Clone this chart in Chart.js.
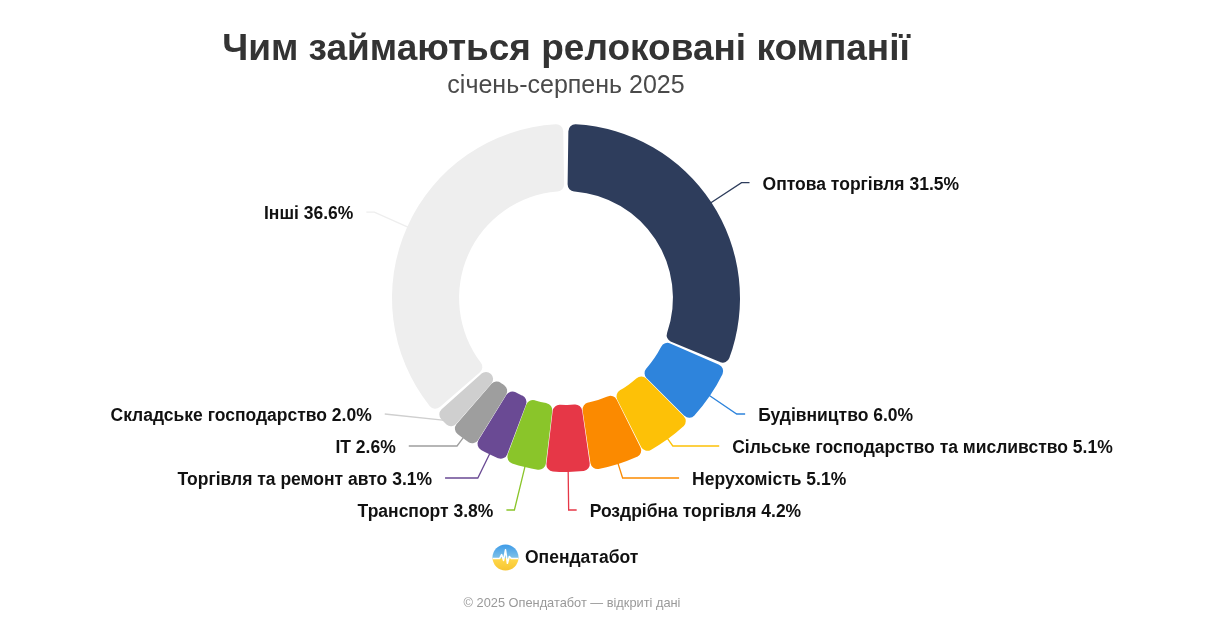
<!DOCTYPE html>
<html lang="uk">
<head>
<meta charset="utf-8">
<title>Чим займаються релоковані компанії</title>
<script src="https://cdn.jsdelivr.net/npm/chart.js@4.4.1/dist/chart.umd.min.js"></script>
<style>
  body { margin: 0; background: #fff; font-family: "Liberation Sans", Arial, sans-serif; }
  #wrap { position: relative; width: 1206px; height: 630px; overflow: hidden; }
  #chart { position: absolute; left: 0; top: 0; }
  .title { position: absolute; left: 0; width: 1132px; top: 29px; text-align: center;
           font-size: 37px; line-height: 37px; font-weight: bold; color: #333; }
  .subtitle { position: absolute; left: 0; width: 1132px; top: 72px; text-align: center;
              font-size: 25px; line-height: 25px; color: #4a4a4a; }
  .brand { position: absolute; left: 492px; top: 543px; height: 28px; display: flex; align-items: center; }
  .brand span { margin-left: 6px; font-size: 17.5px; font-weight: bold; color: #111; }
  .footer { position: absolute; left: 0; width: 1144px; top: 596px; text-align: center;
            font-size: 12.8px; line-height: 13px; color: #999; }
</style>
</head>
<body>
<div id="wrap">
  <canvas id="chart" width="1206" height="630"></canvas>
  <div class="title">Чим займаються релоковані компанії</div>
  <div class="subtitle">січень-серпень 2025</div>
  <div class="brand">
    <svg width="27" height="27" viewBox="0 0 28 28">
      <defs>
        <linearGradient id="g" x1="0" y1="0" x2="0" y2="1">
          <stop offset="0" stop-color="#3e9be8"/>
          <stop offset="0.5" stop-color="#7cc0e8"/>
          <stop offset="0.55" stop-color="#ffd84a"/>
          <stop offset="1" stop-color="#f7c531"/>
        </linearGradient>
      </defs>
      <circle cx="14" cy="14" r="13.5" fill="url(#g)"/>
      <polyline points="1,15 8,15 10,11 12,17 14,6 16,20 18,13 20,15 27,15" fill="none" stroke="#fff" stroke-width="1.6" stroke-linejoin="round"/>
    </svg>
    <span>Опендатабот</span>
  </div>
  <div class="footer">© 2025 Опендатабот — відкриті дані</div>
</div>
<script>
const categories = [
  "Оптова торгівля",
  "Будівництво",
  "Сільське господарство та мисливство",
  "Нерухомість",
  "Роздрібна торгівля",
  "Транспорт",
  "Торгівля та ремонт авто",
  "IT",
  "Складське господарство",
  "Інші"
];
const shares = [31.5, 6.0, 5.1, 5.1, 4.2, 3.8, 3.1, 2.6, 2.0, 36.6];
const colors = [
  "#2e3d5c", "#2e84dc", "#fdc107", "#fb8a00", "#e63747",
  "#8ac52a", "#6a4a94", "#9e9e9e", "#cfcfcf", "#eeeeee"
];

// spread labels of one side so they keep a minimum vertical gap
function spreadLabels(items, gap, minY, maxY) {
  items.sort((a, b) => a.y0 - b.y0);
  let clusters = items.map(it => ({ items: [it], y: it.y0 }));
  let merged = true;
  while (merged) {
    merged = false;
    clusters.forEach(c => {
      let s = 0;
      c.items.forEach((it, k) => { s += it.y0 - k * gap; });
      c.y = s / c.items.length;
      c.y = Math.max(minY, Math.min(maxY - (c.items.length - 1) * gap, c.y));
    });
    for (let i = 0; i < clusters.length - 1; i++) {
      const a = clusters[i], b = clusters[i + 1];
      if (a.y + a.items.length * gap > b.y) {
        a.items = a.items.concat(b.items);
        clusters.splice(i + 1, 1);
        merged = true;
        break;
      }
    }
  }
  clusters.forEach(c => c.items.forEach((it, k) => { it.y = c.y + k * gap; }));
}

const sliceLabels = {
  id: "sliceLabels",
  afterDatasetsDraw(chart) {
    const ctx = chart.ctx;
    const arcs = chart.getDatasetMeta(0).data;
    const cx = arcs[0].x, cy = arcs[0].y, R = arcs[0].outerRadius;
    const len1 = 38, A = R + 42;

    const items = arcs.map((arc, i) => {
      const a = (arc.startAngle + arc.endAngle) / 2;
      const cos = Math.cos(a), sin = Math.sin(a);
      return {
        i, cos, sin,
        dir: cos >= 0 ? 1 : -1,
        p1: { x: cx + R * cos, y: cy + R * sin },
        y0: cy + (R + len1) * sin
      };
    });

    [1, -1].forEach(dir => {
      const side = items.filter(it => it.dir === dir);
      spreadLabels(side, 32, 110, cy + R + 40);
      // align label ends on an ellipse, per half
      [side.filter(it => it.y <= cy), side.filter(it => it.y > cy)].forEach(semi => {
        if (!semi.length) return;
        let far = semi[0];
        semi.forEach(it => { if (Math.abs(it.y - cy) > Math.abs(far.y - cy)) far = it; });
        const dx0 = Math.abs(A * far.cos);
        const B = Math.abs(far.y - cy) / Math.sqrt(Math.max(1e-4, 1 - (dx0 / A) * (dx0 / A)));
        semi.forEach(it => {
          const dy = it.y - cy;
          it.ex = A * Math.sqrt(Math.max(0, 1 - (dy * dy) / (B * B)));
        });
      });
    });

    ctx.save();
    ctx.font = "bold 17.5px 'Liberation Sans', Arial, sans-serif";
    ctx.textBaseline = "middle";
    items.forEach(it => {
      let t = Math.abs(it.sin) > 1e-3 ? (it.y - it.p1.y) / it.sin : 0;
      if (t < 0) t = 0;
      const p2 = { x: it.p1.x + t * it.cos, y: it.p1.y + t * it.sin };
      if (t === 0) p2.y = it.p1.y;
      const p3x = cx + it.dir * Math.max(it.ex, Math.abs(p2.x - cx) + 8);
      ctx.strokeStyle = colors[it.i];
      ctx.lineWidth = 1.3;
      ctx.beginPath();
      ctx.moveTo(it.p1.x, it.p1.y);
      if (t > 0) ctx.lineTo(p2.x, p2.y);
      ctx.lineTo(p3x, it.y);
      ctx.stroke();
      ctx.fillStyle = "#111";
      ctx.textAlign = it.dir > 0 ? "left" : "right";
      ctx.fillText(categories[it.i] + " " + shares[it.i].toFixed(1) + "%", p3x + it.dir * 13, it.y + 2);
    });
    ctx.restore();
  }
};

new Chart(document.getElementById("chart").getContext("2d"), {
  type: "doughnut",
  data: {
    labels: categories,
    datasets: [{
      data: shares,
      backgroundColor: colors,
      borderWidth: 0,
      borderRadius: 7,
      spacing: 4
    }]
  },
  options: {
    responsive: false,
    animation: false,
    cutout: "61%",
    layout: { padding: { left: 392, right: 466, top: 124, bottom: 158 } },
    plugins: {
      legend: { display: false },
      tooltip: { enabled: false }
    }
  },
  plugins: [sliceLabels]
});
</script>
</body>
</html>
